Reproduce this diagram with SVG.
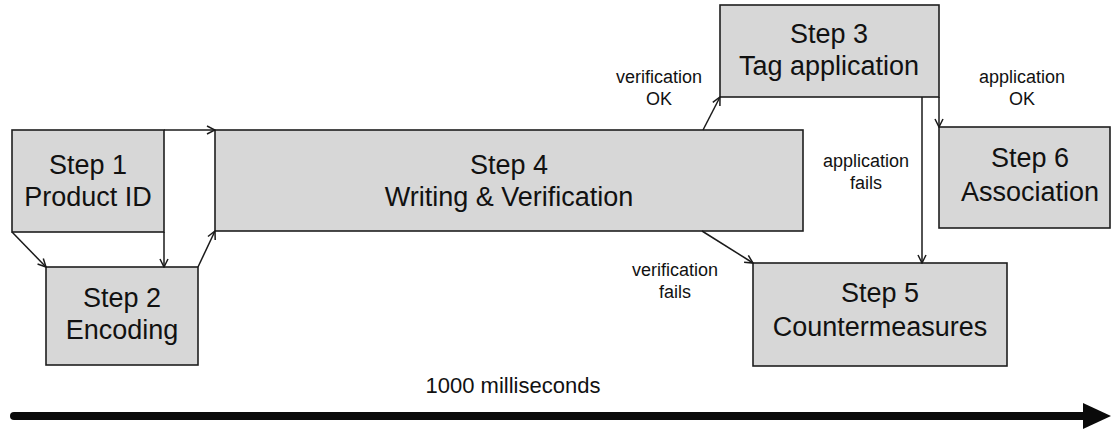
<svg xmlns="http://www.w3.org/2000/svg" width="1113" height="429" viewBox="0 0 1113 429">
  <defs>
    <marker id="open" viewBox="0 0 10 10" refX="9" refY="5" markerWidth="10" markerHeight="10" markerUnits="userSpaceOnUse" orient="auto">
      <path d="M1,1 L9,5 L1,9" fill="none" stroke="#1a1a1a" stroke-width="1.5"/>
    </marker>
  </defs>
  <style>
    .box { fill: #d7d7d7; stroke: #1e1e1e; stroke-width: 1.6; }
    .big { font-family: "Liberation Sans", Arial, sans-serif; font-size: 27px; fill: #111; text-anchor: middle; }
    .small { font-family: "Liberation Sans", Arial, sans-serif; font-size: 18px; fill: #111; text-anchor: middle; }
    .time { font-family: "Liberation Sans", Arial, sans-serif; font-size: 22px; fill: #111; text-anchor: middle; }
    .link { fill: none; stroke: #1a1a1a; stroke-width: 1.5; marker-end: url(#open); }
  </style>
  <rect width="1113" height="429" fill="#ffffff"/>

  <g id="step1">
    <rect class="box" x="12" y="130" width="152" height="102"/>
    <text class="big" x="88" y="174">Step 1</text>
    <text class="big" x="88" y="206">Product ID</text>
  </g>
  <g id="step2">
    <rect class="box" x="46" y="267" width="152" height="98"/>
    <text class="big" x="122" y="307">Step 2</text>
    <text class="big" x="122" y="339">Encoding</text>
  </g>
  <g id="step4">
    <rect class="box" x="215" y="130" width="588" height="101"/>
    <text class="big" x="509" y="174">Step 4</text>
    <text class="big" x="509" y="206">Writing &amp; Verification</text>
  </g>
  <g id="step3">
    <rect class="box" x="720" y="5" width="219" height="92"/>
    <text class="big" x="829" y="43">Step 3</text>
    <text class="big" x="829" y="75">Tag application</text>
  </g>
  <g id="step6">
    <rect class="box" x="939" y="127" width="171" height="101"/>
    <text class="big" x="1030" y="167">Step 6</text>
    <text class="big" x="1030" y="201">Association</text>
  </g>
  <g id="step5">
    <rect class="box" x="753" y="263" width="254" height="103"/>
    <text class="big" x="880" y="302">Step 5</text>
    <text class="big" x="880" y="336">Countermeasures</text>
  </g>

  <g id="connectors">
    <line class="link" x1="12" y1="232" x2="46" y2="267"/>
    <line class="link" x1="164" y1="232" x2="164" y2="267"/>
    <line class="link" x1="164" y1="130" x2="215" y2="130"/>
    <line class="link" x1="198" y1="267" x2="215" y2="231"/>
    <line class="link" x1="703" y1="130" x2="720" y2="97"/>
    <line class="link" x1="702" y1="231" x2="753" y2="263"/>
    <line class="link" x1="922" y1="97" x2="922" y2="263"/>
    <line class="link" x1="939" y1="97" x2="939" y2="127"/>
  </g>

  <g id="labels">
    <text class="small" x="659" y="83">verification</text>
    <text class="small" x="659" y="105">OK</text>
    <text class="small" x="675" y="276">verification</text>
    <text class="small" x="675" y="298">fails</text>
    <text class="small" x="866" y="167">application</text>
    <text class="small" x="866" y="189">fails</text>
    <text class="small" x="1022" y="83">application</text>
    <text class="small" x="1022" y="105">OK</text>
  </g>

  <g id="timeline">
    <text class="time" x="513" y="393">1000 milliseconds</text>
    <line x1="14" y1="416" x2="1086" y2="416" stroke="#0a0a0a" stroke-width="8" stroke-linecap="round"/>
    <polygon points="1083,403 1111,416 1083,429" fill="#0a0a0a"/>
  </g>
</svg>
